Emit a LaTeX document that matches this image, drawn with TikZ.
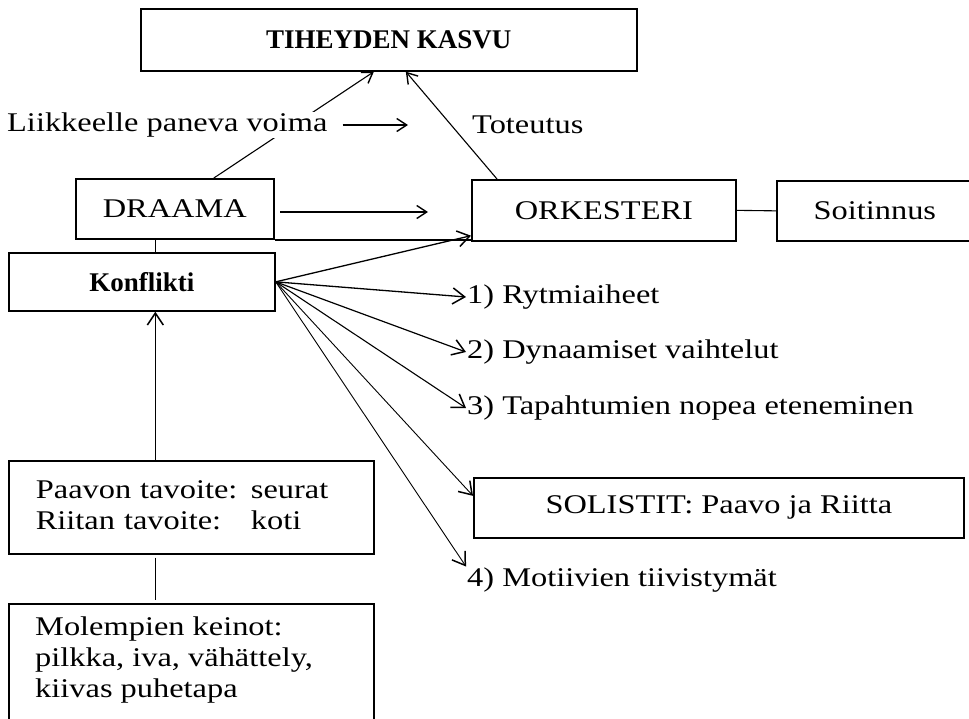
\documentclass[tikz,border=0pt]{standalone}
\usepackage{fontspec}
\setmainfont[FakeStretch=1.2, BoldFeatures={FakeStretch=1.0}]{Liberation Serif}
\usetikzlibrary{arrows.meta,calc}

\tikzset{
  box/.style={draw, line width=1.7pt, inner sep=0pt, anchor=north west},
  lbl/.style={inner sep=1pt, anchor=west},
  conn/.style={line width=1.1pt},
  thin/.style={line width=0.9pt},
  barb/.style={-{Straight Barb[length=12pt,width=16pt,line width=1.5pt]}},
  sbarb/.style={-{Straight Barb[length=10pt,width=13pt,line width=1.4pt]}},
}

\begin{document}
\begin{tikzpicture}[x=1pt,y=-1pt,font=\fontsize{27}{31}\selectfont]
\clip (0,0) rectangle (969,718);

% boxes
\node[box, minimum width=496pt, minimum height=62pt] (tih) at (140,8) {\bfseries TIHEYDEN KASVU};
\node[box, minimum width=198pt, minimum height=60pt] (draama) at (75,178) {DRAAMA};
\node[box, minimum width=266pt, minimum height=58pt] (konf) at (8,252) {\bfseries Konflikti};
\node[box, minimum width=264pt, minimum height=61pt] (ork) at (471,179) {ORKESTERI};
\node[box, minimum width=196pt, minimum height=60pt] (soit) at (776,180) {Soitinnus};
\node[box, minimum width=490pt, minimum height=60pt] (sol) at (473,477) {SOLISTIT: Paavo ja Riitta};
\node[box, minimum width=365pt, minimum height=93pt, inner xsep=27pt, text width=311pt, align=left] (paavon) at (8,460)
  {\begin{tabular}{@{}l@{ }l@{}}Paavon tavoite: & seurat\\ Riitan tavoite: & koti\end{tabular}};
\node[box, minimum width=365pt, minimum height=160pt] (molem) at (8,603) {};
\node[anchor=north west, inner sep=0pt, align=left] (molemtxt) at ([xshift=27pt,yshift=-14pt]molem.north west)
  {Molempien keinot:\\ pilkka, iva, vähättely,\\ kiivas puhetapa};

% drama pushes the density upward; its label breaks the line
\draw[conn, sbarb] ([xshift=39pt]draama.north) -- ([xshift=-15pt]tih.south);
\node[lbl, fill=white] (liik) at (6,125) {Liikkeelle paneva voima};
\draw[conn, sbarb] ([xshift=26pt]ork.north west) -- ([xshift=17pt]tih.south);

% free labels
\node[lbl] (tot) at (471,125) {Toteutus};
\node[lbl] (r1) at (466,297) {1) Rytmiaiheet};
\node[lbl] (r2) at (466,352) {2) Dynaamiset vaihtelut};
\node[lbl] (r3) at (466,408) {3) Tapahtumien nopea eteneminen};
\node[lbl] (r4) at (466,580) {4) Motiivien tiivistymät};

\coordinate (la) at ([xshift=14pt]liik.east);
\coordinate (lb) at (408,125);
\draw[conn, sbarb] (la) -- (lb);
\coordinate (da) at (280,212);
\coordinate (db) at (428,212);
\draw[conn, sbarb] (da) -- (db);

% drama bottom rule runs on to the orchestra
\draw[line width=1.7pt] (draama.south east) -- (draama.south east -| ork.west);

% orchestra and instrumentation
\draw[conn] (ork.east) -- (soit.west);

% vertical links on the left
\coordinate (px) at ([xshift=-36pt]paavon.north);
\draw[thin] (draama.south -| px) -- (konf.north -| px);
\draw[conn, barb] (px) -- (px |- konf.south);
\draw[thin, shorten <=3pt, shorten >=3pt] (paavon.south -| px) -- (molem.north -| px);

% fan of arrows from the conflict
\draw[line width=1.3pt, barb] (konf.east) -- ([yshift=6pt]ork.south west);
\draw[line width=1.3pt, barb] (konf.east) -- (r1.west);
\draw[line width=1.2pt, barb] (konf.east) -- (r2.west);
\draw[line width=1.1pt, barb] (konf.east) -- (r3.west);
\draw[thin, barb] (konf.east) -- ([yshift=12pt]sol.west);
\draw[thin, barb] (konf.east) -- (r4.north west);
\end{tikzpicture}
\end{document}
